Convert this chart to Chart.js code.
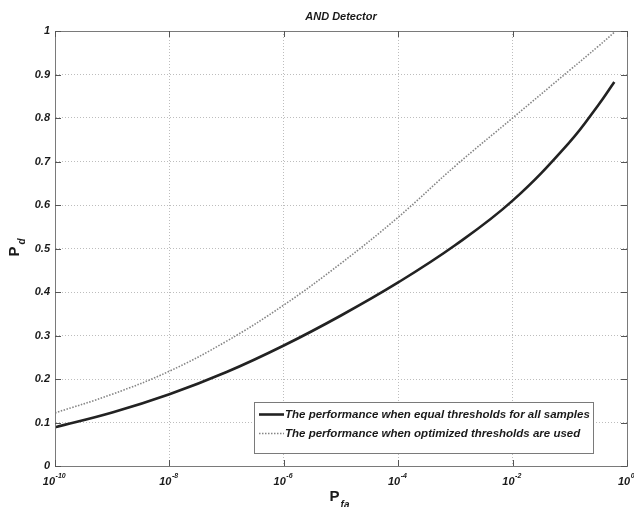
<!DOCTYPE html>
<html>
<head>
<meta charset="utf-8">
<script src="https://cdn.jsdelivr.net/npm/chart.js@4/dist/chart.umd.min.js"></script>
<style>
  html, body { margin: 0; padding: 0; background: #fff; }
  #wrap { width: 634px; height: 507px; }
</style>
</head>
<body>
<div id="wrap"><canvas id="c" width="634" height="507"></canvas></div>
<script>
// ---- data ----
const chartTitle = 'AND Detector';
const pfa = [1e-10, 1e-9, 1e-8, 1e-7, 1e-6, 1e-5, 1e-4, 1e-3, 1e-2, 1e-1, 3.16e-1, 6e-1];
const pdEqual = [0.089, 0.123, 0.165, 0.216, 0.277, 0.346, 0.422, 0.508, 0.610, 0.745, 0.830, 0.883];
const pdOptimized = [0.122, 0.165, 0.218, 0.287, 0.370, 0.466, 0.572, 0.690, 0.800, 0.910, 0.965, 0.997];
const seriesLabels = [
  'The performance when equal thresholds for all samples',
  'The performance when optimized thresholds are used'
];
const xTickValues = [1e-10, 1e-8, 1e-6, 1e-4, 1e-2, 1];
const xTickExponents = ['-10', '-8', '-6', '-4', '-2', '0'];
const yTickLabels = ['0', '0.1', '0.2', '0.3', '0.4', '0.5', '0.6', '0.7', '0.8', '0.9', '1'];
const xTitle = ['P', 'fa'];
const yTitle = ['P', 'd'];

const FONT = '"Liberation Sans", Arial, sans-serif';
const TEXT = '#1a1a1a';
const FRAME = '#7a7a7a';

// ---- frame, ticks, labels, titles and legend ----
const decor = {
  id: 'decor',
  afterDraw(chart) {
    const ctx = chart.ctx;
    const a = chart.chartArea;
    const xs = chart.scales.x, ys = chart.scales.y;
    ctx.save();

    // box
    ctx.strokeStyle = FRAME;
    ctx.lineWidth = 1;
    ctx.setLineDash([]);
    ctx.strokeRect(Math.round(a.left) + 0.5, Math.round(a.top) + 0.5,
                   Math.round(a.right - a.left), Math.round(a.bottom - a.top));

    // inward tick marks
    ctx.strokeStyle = '#555';
    ctx.beginPath();
    ys.ticks.forEach(t => {
      const y = Math.round(ys.getPixelForValue(t.value)) + 0.5;
      ctx.moveTo(a.left, y); ctx.lineTo(a.left + 6, y);
      ctx.moveTo(a.right, y); ctx.lineTo(a.right - 6, y);
    });
    xTickValues.forEach(v => {
      const x = Math.round(xs.getPixelForValue(v)) + 0.5;
      ctx.moveTo(x, a.bottom); ctx.lineTo(x, a.bottom - 6);
      ctx.moveTo(x, a.top); ctx.lineTo(x, a.top + 6);
    });
    ctx.stroke();

    // title
    ctx.fillStyle = TEXT;
    ctx.font = 'italic bold 11px ' + FONT;
    ctx.textAlign = 'center';
    ctx.textBaseline = 'middle';
    ctx.fillText(chartTitle, (a.left + a.right) / 2, 17);

    // x tick labels: 10 with superscript exponent
    ctx.textAlign = 'left';
    ctx.textBaseline = 'alphabetic';
    xTickValues.forEach((v, i) => {
      const x = xs.getPixelForValue(v);
      ctx.font = 'italic bold 11px ' + FONT;
      const wb = ctx.measureText('10').width;
      ctx.font = 'italic bold 7px ' + FONT;
      const we = ctx.measureText(xTickExponents[i]).width;
      const x0 = x - (wb + we) / 2 - 1;
      ctx.font = 'italic bold 11px ' + FONT;
      ctx.fillText('10', x0, a.bottom + 19);
      ctx.font = 'italic bold 7px ' + FONT;
      ctx.fillText(xTickExponents[i], x0 + wb + 0.5, a.bottom + 12);
    });

    // x axis title
    ctx.font = 'bold 15px ' + FONT;
    const wP = ctx.measureText(xTitle[0]).width;
    ctx.font = 'italic bold 10px ' + FONT;
    const wS = ctx.measureText(xTitle[1]).width;
    const xt = (a.left + a.right) / 2 - (wP + wS) / 2 - 2;
    ctx.font = 'bold 15px ' + FONT;
    ctx.fillText(xTitle[0], xt, 501);
    ctx.font = 'italic bold 10px ' + FONT;
    ctx.fillText(xTitle[1], xt + wP + 1, 508);

    // y axis title (rotated)
    ctx.save();
    ctx.translate(19, (a.top + a.bottom) / 2);
    ctx.rotate(-Math.PI / 2);
    ctx.font = 'bold 15px ' + FONT;
    const wPy = ctx.measureText(yTitle[0]).width;
    ctx.font = 'italic bold 10px ' + FONT;
    const wSy = ctx.measureText(yTitle[1]).width;
    const yt = -(wPy + wSy) / 2;
    ctx.font = 'bold 15px ' + FONT;
    ctx.fillText(yTitle[0], yt, 0);
    ctx.font = 'italic bold 10px ' + FONT;
    ctx.fillText(yTitle[1], yt + wPy + 2, 6);
    ctx.restore();

    // legend
    const lx = 254, ly = 402, lw = 339, lh = 51;
    ctx.fillStyle = '#fff';
    ctx.fillRect(lx, ly, lw, lh);
    ctx.strokeStyle = FRAME;
    ctx.lineWidth = 1;
    ctx.strokeRect(lx + 0.5, ly + 0.5, lw, lh);
    chart.data.datasets.forEach((ds, i) => {
      const cy = ly + 12.5 + i * 19;
      ctx.strokeStyle = ds.borderColor;
      ctx.lineWidth = ds.borderWidth;
      ctx.setLineDash(ds.borderDash || []);
      ctx.beginPath();
      ctx.moveTo(lx + 5, cy); ctx.lineTo(lx + 30, cy);
      ctx.stroke();
      ctx.setLineDash([]);
      ctx.fillStyle = TEXT;
      ctx.font = 'italic bold 11.5px ' + FONT;
      ctx.textBaseline = 'middle';
      ctx.fillText(ds.label, lx + 31, cy + 0.5);
    });

    ctx.restore();
  }
};

new Chart(document.getElementById('c'), {
  type: 'line',
  data: {
    labels: pfa,
    datasets: [
      {
        label: seriesLabels[0],
        data: pfa.map((x, i) => ({ x, y: pdEqual[i] })),
        borderColor: '#222222',
        borderWidth: 2.6,
        pointRadius: 0,
        tension: 0.4,
        fill: false
      },
      {
        label: seriesLabels[1],
        data: pfa.map((x, i) => ({ x, y: pdOptimized[i] })),
        borderColor: '#858585',
        borderWidth: 1.6,
        borderDash: [1.5, 1.5],
        pointRadius: 0,
        tension: 0.4,
        fill: false
      }
    ]
  },
  options: {
    responsive: false,
    animation: false,
    devicePixelRatio: 1,
    layout: { padding: { top: 31, right: 7, left: 0, bottom: 0 } },
    plugins: {
      legend: { display: false },
      title: { display: false },
      tooltip: { enabled: false }
    },
    scales: {
      x: {
        type: 'logarithmic',
        min: 1e-10,
        max: 1,
        afterBuildTicks: s => { s.ticks = xTickValues.map(v => ({ value: v, major: false })); },
        afterFit: s => { s.height = 41; },
        ticks: { display: false },
        grid: { color: '#bdbdbd', lineWidth: 1, drawTicks: false },
        border: { color: FRAME, width: 1, dash: [1, 2] }
      },
      y: {
        type: 'linear',
        min: 0,
        max: 1,
        afterFit: s => { s.width = 55; },
        ticks: {
          stepSize: 0.1,
          padding: 5,
          color: TEXT,
          font: { family: FONT, size: 11, style: 'italic', weight: 'bold' },
          callback: (v, i) => yTickLabels[i]
        },
        grid: { color: '#bdbdbd', lineWidth: 1, drawTicks: false },
        border: { color: FRAME, width: 1, dash: [1, 2] }
      }
    }
  },
  plugins: [decor]
});
</script>
</body>
</html>
